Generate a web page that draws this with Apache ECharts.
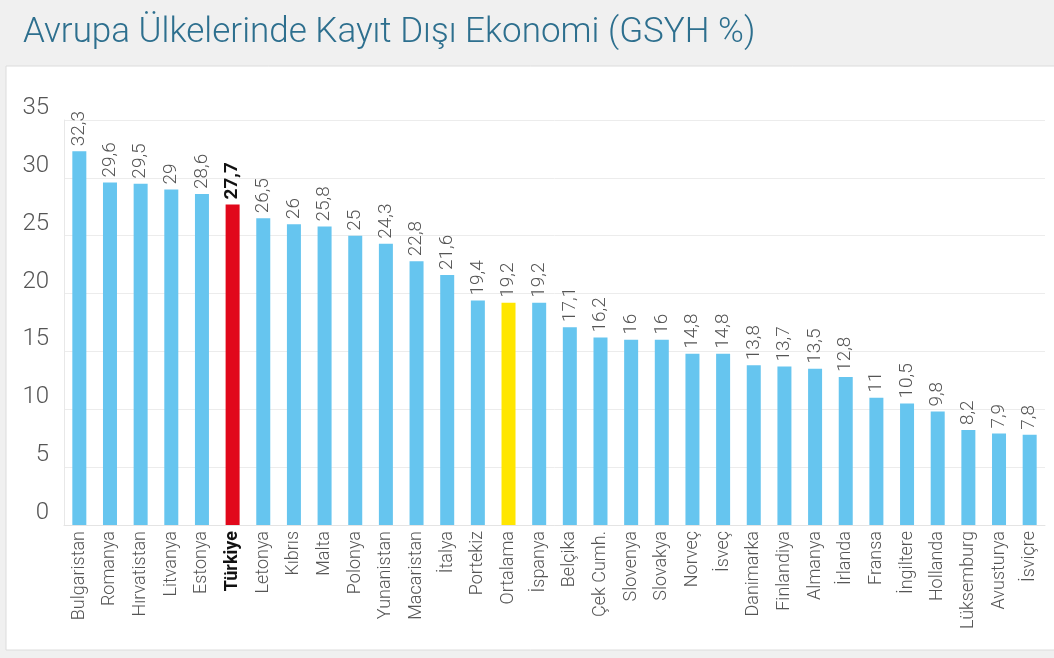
<!DOCTYPE html>
<html>
<head>
<meta charset="utf-8">
<script src="https://cdn.jsdelivr.net/npm/echarts@6/dist/echarts.min.js"></script>
<style>
  html, body { margin: 0; padding: 0; background: #f0f0f0; }
  #chart { width: 1054px; height: 658px; }
</style>
</head>
<body>
<div id="chart"></div>
<script>
// ülkeler ve kayıt dışı ekonomi oranları (GSYH %)
const countries = [
  "Bulgaristan", "Romanya", "Hırvatistan", "Litvanya", "Estonya", "Türkiye",
  "Letonya", "Kıbrıs", "Malta", "Polonya", "Yunanistan", "Macaristan",
  "İtalya", "Portekiz", "Ortalama", "İspanya", "Belçika", "Çek Cumh.",
  "Slovenya", "Slovakya", "Norveç", "İsveç", "Danimarka", "Finlandiya",
  "Almanya", "İrlanda", "Fransa", "İngiltere", "Hollanda", "Lüksemburg",
  "Avusturya", "İsviçre"
];
const values = [
  32.3, 29.6, 29.5, 29, 28.6, 27.7,
  26.5, 26, 25.8, 25, 24.3, 22.8,
  21.6, 19.4, 19.2, 19.2, 17.1, 16.2,
  16, 16, 14.8, 14.8, 13.8, 13.7,
  13.5, 12.8, 11, 10.5, 9.8, 8.2,
  7.9, 7.8
];
const highlight = "Türkiye";
const average = "Ortalama";

const BLUE = "#66c5ef";
const RED = "#e1081b";
const YELLOW = "#ffe600";

const chart = echarts.init(document.getElementById("chart"));

const barData = values.map((v, i) => {
  const name = countries[i];
  let color = BLUE;
  if (name === highlight) color = RED;
  if (name === average) color = YELLOW;
  const item = { value: v, itemStyle: { color: color } };
  if (name === highlight) {
    item.label = { color: "#111", fontWeight: "bold" };
  }
  return item;
});

const option = {
  backgroundColor: "#f0f0f0",
  animation: false,
  title: {
    text: "Avrupa Ülkelerinde Kayıt Dışı Ekonomi (GSYH %)",
    left: 18,
    top: 11,
    textStyle: {
      fontFamily: "Roboto",
      fontWeight: 300,
      fontSize: 35,
      color: "#2d6f8e",
    },
  },
  graphic: [
    {
      type: "rect",
      z: -10,
      shape: { x: 6, y: 66, width: 1060, height: 584 },
      style: { fill: "#ffffff", stroke: "#dcdcdc", lineWidth: 1 },
    },
  ],
  grid: {
    left: 64,
    right: 9,
    top: 120,
    bottom: 133,
  },
  xAxis: {
    type: "category",
    data: countries,
    axisTick: { show: false },
    axisLine: { lineStyle: { color: "#e4e4e4" } },
    axisLabel: {
      rotate: 90,
      interval: 0,
      margin: 6,
      fontFamily: "Roboto",
      fontWeight: 300,
      fontSize: 18,
      color: "#555",
      formatter: (v) => (v === highlight ? "{b|" + v + "}" : v),
      rich: {
        b: { fontFamily: "Roboto", fontWeight: "bold", fontSize: 18, color: "#111" },
      },
    },
  },
  yAxis: {
    type: "value",
    min: 0,
    max: 35,
    interval: 5,
    axisLine: { show: true, lineStyle: { color: "#e8e8e8" } },
    axisTick: { show: false },
    splitLine: { lineStyle: { color: "#ececec" } },
    axisLabel: {
      margin: 15,
      verticalAlign: "bottom",
      fontFamily: "Roboto",
      fontWeight: 300,
      fontSize: 24,
      color: "#555",
    },
  },
  series: [
    {
      type: "bar",
      data: barData,
      barWidth: 14,
      label: {
        show: true,
        position: "top",
        rotate: 90,
        align: "left",
        verticalAlign: "middle",
        distance: 5,
        fontFamily: "Roboto",
        fontWeight: 300,
        fontSize: 19,
        color: "#555",
        formatter: (p) => String(p.value).replace(".", ","),
      },
    },
  ],
};

chart.setOption(option);
</script>
</body>
</html>
